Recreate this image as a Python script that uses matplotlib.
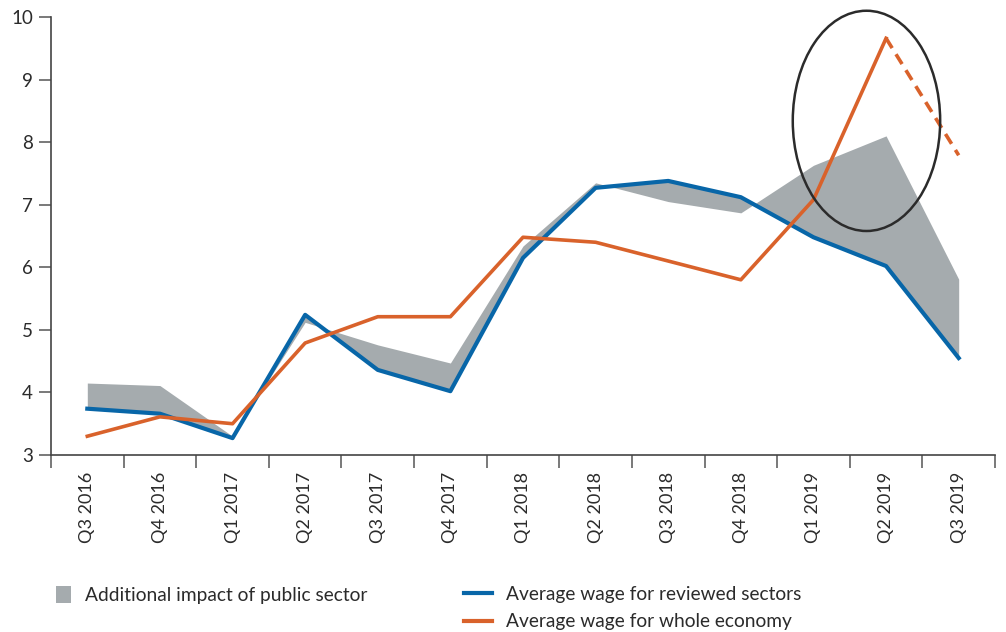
import matplotlib
matplotlib.use("Agg")
import matplotlib.pyplot as plt
from matplotlib.patches import Ellipse, Patch
from matplotlib.lines import Line2D
import numpy as np

plt.rcParams['font.family'] = ['Lato', 'DejaVu Sans']

quarters = ["Q3 2016", "Q4 2016", "Q1 2017", "Q2 2017", "Q3 2017", "Q4 2017",
            "Q1 2018", "Q2 2018", "Q3 2018", "Q4 2018", "Q1 2019", "Q2 2019", "Q3 2019"]
reviewed = [3.74, 3.66, 3.27, 5.24, 4.36, 4.02, 6.15, 7.27, 7.38, 7.12, 6.48, 6.02, 4.55]
whole_economy = [3.30, 3.61, 3.50, 4.79, 5.21, 5.21, 6.48, 6.40, 6.10, 5.80, 7.08, 9.66, 7.79]
with_public = [4.15, 4.11, 3.30, 5.12, 4.76, 4.47, 6.34, 7.35, 7.05, 6.87, 7.63, 8.10, 5.81]
yticks = [3, 4, 5, 6, 7, 8, 9, 10]

BLUE = "#0866a8"
ORANGE = "#d9622b"
GRAY = "#a5abae"
DARK = "#2b2b2b"

fig = plt.figure(figsize=(10.06, 6.32), dpi=100)
ax = fig.add_axes([51/1006, 1-455/632, (995-51)/1006, (455-17)/632])

x = np.arange(len(quarters))
ax.fill_between(x, reviewed, with_public, color=GRAY, linewidth=0, zorder=1)
ax.plot(x, reviewed, color=BLUE, lw=3.0, zorder=3)
n_solid = len(quarters) - 1
ax.plot(x[:n_solid], whole_economy[:n_solid], color=ORANGE, lw=2.6, zorder=4)
ax.plot(x[n_solid-1:], whole_economy[n_solid-1:], color=ORANGE, lw=2.6,
        ls=(0, (3.2, 2.0)), zorder=4, clip_on=False)

ell = Ellipse((10.73, 8.34), width=2.03, height=3.52, fill=False, edgecolor=DARK,
              lw=1.8, zorder=5, clip_on=False)
ax.add_patch(ell)

ax.set_xlim(-0.5, len(quarters) - 0.5)
ax.set_ylim(3, 10)
ax.set_yticks(yticks)
ax.set_yticklabels([str(v) for v in yticks], fontsize=13.5, color=DARK)
ax.set_xticks(x)
ax.set_xticklabels(quarters, rotation=90, fontsize=13, color=DARK)
ax.set_xticks(np.arange(-0.5, len(quarters)), minor=True)
ax.tick_params(axis='x', which='major', length=0, pad=12)
ax.tick_params(axis='x', which='minor', length=9, width=1.1, color='#555555')
ax.tick_params(axis='y', length=9, width=1.1, color='#555555', pad=4)
for s in ['top', 'right']:
    ax.spines[s].set_visible(False)
for s in ['left', 'bottom']:
    ax.spines[s].set_color('#444444')
    ax.spines[s].set_linewidth(1.2)

h1 = [Patch(facecolor=GRAY, edgecolor='none', label="Additional impact of public sector")]
h2 = [Line2D([0], [0], color=BLUE, lw=3, label="Average wage for reviewed sectors"),
      Line2D([0], [0], color=ORANGE, lw=3, label="Average wage for whole economy")]
leg1 = fig.legend(handles=h1, loc='upper left', bbox_to_anchor=(48/1006, 1-578/632),
                  frameon=False, fontsize=13.8, handlelength=0.8, handleheight=1.0,
                  handletextpad=0.75, borderaxespad=0, labelcolor=DARK)
leg2 = fig.legend(handles=h2, loc='upper left', bbox_to_anchor=(456/1006, 1-578/632),
                  frameon=False, fontsize=13.8, handlelength=1.5, handletextpad=0.7,
                  labelspacing=0.55, borderaxespad=0, labelcolor=DARK)

fig.savefig("out.png", dpi=100)
